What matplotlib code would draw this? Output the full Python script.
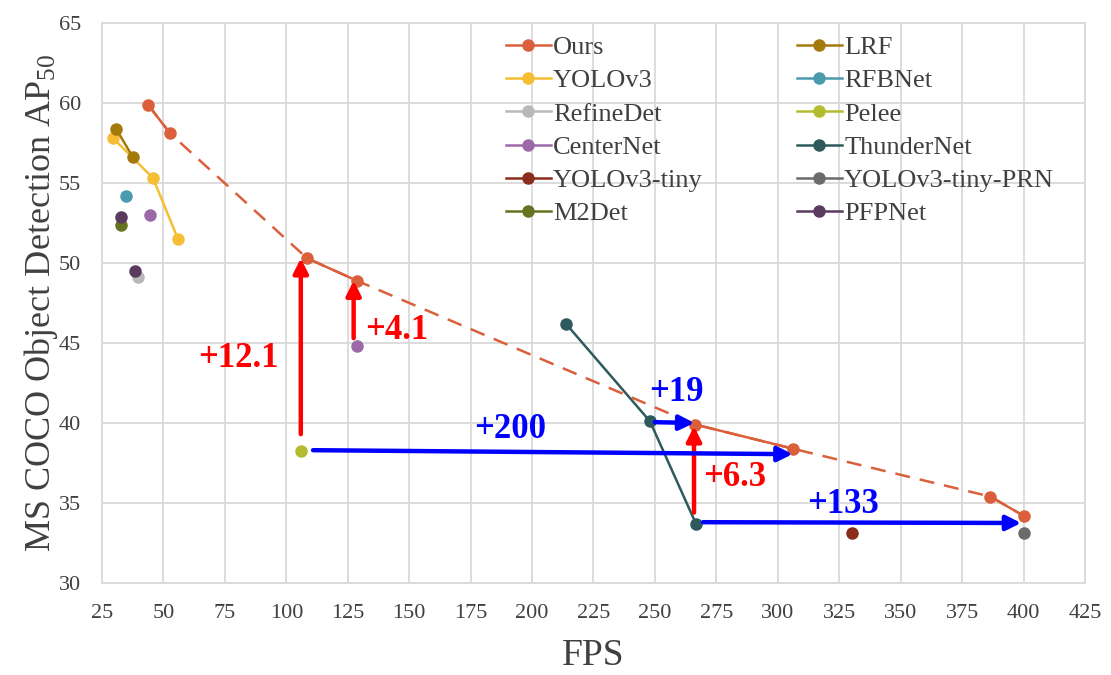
import matplotlib.pyplot as plt
from matplotlib.lines import Line2D

plt.rcParams['font.family'] = ['Liberation Serif', 'DejaVu Serif']
plt.rcParams['mathtext.fontset'] = 'custom'
plt.rcParams['mathtext.rm'] = 'Liberation Serif'
plt.rcParams['mathtext.it'] = 'Liberation Serif:italic'
plt.rcParams['mathtext.bf'] = 'Liberation Serif:bold'

# FPS / AP50 values
ours_fps = [43.7, 52.7, 108.4, 128.6, 266.5, 306.0, 386.5, 400.0]
ours_ap = [59.9, 58.1, 50.3, 48.9, 39.9, 38.4, 35.4, 34.2]

yolov3_fps = [29.5, 45.8, 55.9]
yolov3_ap = [57.8, 55.3, 51.5]

lrf_fps = [30.7, 37.6]
lrf_ap = [58.4, 56.6]

rfbnet_fps = [34.8]
rfbnet_ap = [54.2]

refinedet_fps = [39.7]
refinedet_ap = [49.1]

pelee_fps = [106.0]
pelee_ap = [38.25]

centernet_fps = [44.5, 128.8]
centernet_ap = [53.0, 44.8]

thundernet_fps = [213.8, 248.0, 266.7]
thundernet_ap = [46.2, 40.1, 33.7]

yolov3_tiny_fps = [330.2]
yolov3_tiny_ap = [33.1]

yolov3_tiny_prn_fps = [400.0]
yolov3_tiny_prn_ap = [33.1]

m2det_fps = [32.7]
m2det_ap = [52.4]

pfpnet_fps = [32.7, 38.4]
pfpnet_ap = [52.9, 49.5]

# improvement arrows: (x0, y0, x1, y1, label, label_x, label_y)
red_arrows = [
    (105.9, 39.3, 105.9, 50.3, "+12.1", 80.5, 44.0),
    (127.4, 45.3, 127.4, 48.9, "+4.1", 145.0, 45.8),
    (265.9, 34.4, 265.9, 39.8, "+6.3", 282.5, 36.6),
]
blue_arrows = [
    (110.9, 38.3, 306.0, 38.05, "+200", 191.0, 39.6),
    (250.0, 40.05, 266.0, 40.0, "+19", 258.6, 41.9),
    (269.6, 33.8, 399.0, 33.75, "+133", 326.5, 34.9),
]

x_ticks = list(range(25, 426, 25))
y_ticks = list(range(30, 66, 5))

fig = plt.figure(figsize=(11.11, 6.75), dpi=100)
ax = fig.add_axes([0.0918, 0.1363, 0.8848, 0.8297])

ms = 8
lw = 1.8

# Ours: dashed through all, solid within each pair
ours_c = '#DA5F3A'
ax.plot(ours_fps, ours_ap, color=ours_c, lw=lw, ls=(0, (6, 4)), zorder=3)
for i in range(0, len(ours_fps), 2):
    ax.plot(ours_fps[i:i + 2], ours_ap[i:i + 2], color=ours_c, lw=lw,
            marker='o', ms=ms, zorder=4)

series = [
    ("YOLOv3", yolov3_fps, yolov3_ap, '#F5BE34', True),
    ("LRF", lrf_fps, lrf_ap, '#A57A0C', True),
    ("RFBNet", rfbnet_fps, rfbnet_ap, '#4A9BAE', False),
    ("RefineDet", refinedet_fps, refinedet_ap, '#B8B8B8', False),
    ("Pelee", pelee_fps, pelee_ap, '#B5BB2E', False),
    ("CenterNet", centernet_fps, centernet_ap, '#9C69A8', False),
    ("ThunderNet", thundernet_fps, thundernet_ap, '#2E5A5E', True),
    ("YOLOv3-tiny", yolov3_tiny_fps, yolov3_tiny_ap, '#8A2D1B', False),
    ("YOLOv3-tiny-PRN", yolov3_tiny_prn_fps, yolov3_tiny_prn_ap, '#6B6B6B', False),
    ("M2Det", m2det_fps, m2det_ap, '#667320', False),
    ("PFPNet", pfpnet_fps, pfpnet_ap, '#5A3B5E', False),
]
colors = {"Ours": ours_c}
for name, xs, ys, c, joined in series:
    colors[name] = c
    ax.plot(xs, ys, color=c, lw=lw if joined else 0, marker='o', ms=ms, zorder=3)

for x0, y0, x1, y1, lab, lx, ly in red_arrows:
    ax.annotate("", xy=(x1, y1), xytext=(x0, y0),
                arrowprops=dict(arrowstyle='-|>', color='#FF0000', lw=3.2,
                                mutation_scale=22, shrinkA=0, shrinkB=0), zorder=5)
    ax.text(lx, ly, lab, color='#FF0000', fontsize=25, fontweight='bold',
            ha='center', va='center', zorder=6)
for x0, y0, x1, y1, lab, lx, ly in blue_arrows:
    ax.annotate("", xy=(x1, y1), xytext=(x0, y0),
                arrowprops=dict(arrowstyle='-|>', color='#0000FF', lw=3.2,
                                mutation_scale=22, shrinkA=0, shrinkB=0), zorder=5)
    ax.text(lx, ly, lab, color='#0000FF', fontsize=25, fontweight='bold',
            ha='center', va='center', zorder=6)

legend_names = ["Ours", "YOLOv3", "RefineDet", "CenterNet", "YOLOv3-tiny", "M2Det",
                "LRF", "RFBNet", "Pelee", "ThunderNet", "YOLOv3-tiny-PRN", "PFPNet"]
handles = [Line2D([], [], color=colors[n], lw=lw, marker='o', ms=ms) for n in legend_names]
leg = ax.legend(handles, legend_names, ncol=2, frameon=False, fontsize=19,
                loc='upper left', bbox_to_anchor=(0.4, 0.996),
                handlelength=1.7, handletextpad=0.1, columnspacing=3.55,
                labelspacing=0.37, borderaxespad=0)
for t in leg.get_texts():
    t.set_color('#404040')

ax.set_xlim(25, 425)
ax.set_ylim(30, 65)
ax.set_xticks(x_ticks)
ax.set_yticks(y_ticks)
ax.tick_params(length=0, labelsize=16, labelcolor='#404040', pad=15)
ax.grid(True, color='#D9D9D9', lw=1.3)
ax.set_axisbelow(True)
for s in ax.spines.values():
    s.set_color('#D9D9D9')
    s.set_linewidth(1.3)

ax.set_xlabel("FPS", fontsize=27, color='#404040', labelpad=11)
ax.set_ylabel(r"MS COCO Object Detection AP$_{50}$", fontsize=26, color='#404040',
              labelpad=-1)

fig.savefig("out.png", dpi=100)
